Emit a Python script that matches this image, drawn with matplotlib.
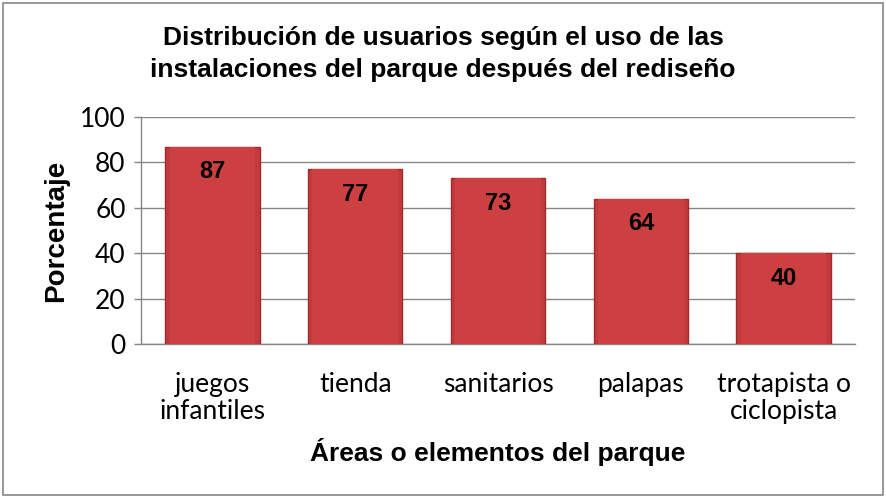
import matplotlib.pyplot as plt
from matplotlib.patches import Rectangle

categorias = ['juegos\ninfantiles', 'tienda', 'sanitarios', 'palapas', 'trotapista o\nciclopista']
porcentajes = [87, 77, 73, 64, 40]
y_ticks = [0, 20, 40, 60, 80, 100]

fig = plt.figure(figsize=(8.86, 4.98), dpi=100)
ax = fig.add_axes([141 / 886, 1 - 344 / 498, 714 / 886, 227 / 498])

# bars with a darker rim to hint at the bevel
x = range(len(categorias))
ax.bar(x, porcentajes, width=0.66, color='#C23A3B', edgecolor='#A02A2C',
       linewidth=1.0, zorder=3)
ax.bar(x, porcentajes, width=0.60, color='#CC4042', linewidth=0, zorder=3)

for i, v in enumerate(porcentajes):
    ax.text(i, v - 11, str(v), ha='center', va='center', fontsize=17,
            fontweight='bold', family='Liberation Sans', zorder=4)

ax.set_xlim(-0.5, len(categorias) - 0.5)
ax.set_ylim(0, 100)
ax.set_yticks(y_ticks)
ax.set_yticklabels([str(t) for t in y_ticks], fontsize=19, family='Lato')
ax.set_xticks(list(x))
ax.set_xticklabels(categorias, fontsize=19, family='Lato', linespacing=1.1)
ax.tick_params(axis='x', length=0, pad=20)
ax.tick_params(axis='y', length=5, width=1, color='#868686', pad=6)
ax.grid(axis='y', color='#868686', linewidth=1, zorder=0)

for side in ['top', 'right']:
    ax.spines[side].set_visible(False)
for side in ['left', 'bottom']:
    ax.spines[side].set_color('#868686')
    ax.spines[side].set_linewidth(1)

ax.set_ylabel('Porcentaje', fontsize=20, fontweight='bold', family='Liberation Sans', labelpad=8)
ax.set_xlabel('Áreas o elementos del parque', fontsize=19, fontweight='bold',
              family='Liberation Sans', labelpad=10)

fig.text(0.5, 1 - 54 / 498, 'Distribución de usuarios según el uso de las\ninstalaciones del parque después del rediseño',
         ha='center', va='center', fontsize=19, fontweight='bold', family='Liberation Sans',
         linespacing=1.4)

# outer chart border
fig.patches.append(Rectangle((3 / 886, 3 / 498), 880 / 886, 492 / 498, transform=fig.transFigure,
                             fill=False, edgecolor='#868686', linewidth=1.2))

fig.savefig('out.png', dpi=100)
